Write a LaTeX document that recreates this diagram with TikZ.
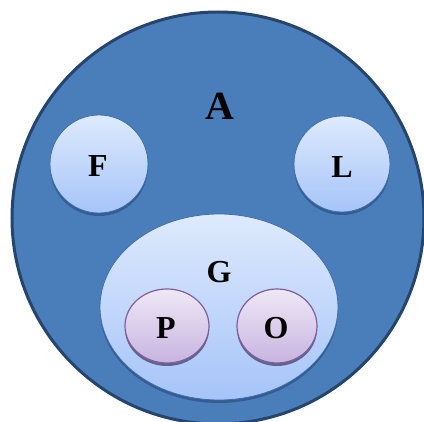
\documentclass[tikz,border=0pt]{standalone}
\usepackage{fontspec}
\setmainfont{Liberation Serif}
\definecolor{outerfill}{RGB}{74,126,187}
\definecolor{outerdraw}{RGB}{38,69,108}
\definecolor{bluetop}{RGB}{222,234,253}
\definecolor{bluebot}{RGB}{166,196,249}
\definecolor{bluedraw}{RGB}{64,110,170}
\definecolor{purtop}{RGB}{239,232,246}
\definecolor{purbot}{RGB}{200,180,224}
\definecolor{purdraw}{RGB}{128,94,156}
\definecolor{shb}{RGB}{52,92,145}
\definecolor{shp}{RGB}{95,100,140}
\begin{document}
\begin{tikzpicture}[x=1pt,y=-1pt,
  lbl/.style={font=\bfseries\fontsize{32}{36}\selectfont, text=black},
  bluein/.style={top color=bluetop, bottom color=bluebot, draw=bluedraw, line width=0.8pt},
  purplein/.style={top color=purtop, bottom color=purbot, draw=purdraw, line width=1.2pt},
  shadowb/.style={fill=shb},
  shadowp/.style={fill=shp}]
\useasboundingbox (0,0) rectangle (424,422);
\begin{scope}
\clip (0,0) rectangle (424,422);
\filldraw[fill=outerfill, draw=outerdraw, line width=3pt] (218,218) circle [radius=206];
\end{scope}
\node[lbl, font=\bfseries\fontsize{40}{44}\selectfont] (A) at (220,106) {A};
% F
\fill[shadowb] (99,167) circle [radius=49];
\draw[bluein] (99,164) circle [radius=49];
\node[lbl] (F) at (98,166) {F};
% L
\fill[shadowb] (342,167) circle [radius=48];
\draw[bluein] (342,164) circle [radius=48];
\node[lbl] (L) at (342,167) {L};
% G
\fill[shadowb] (219,310) ellipse [x radius=119, y radius=93];
\draw[bluein] (219,307) ellipse [x radius=119, y radius=93];
\node[lbl] (G) at (219,272) {G};
% P
\fill[shadowp] (167,329) ellipse [x radius=42, y radius=37];
\draw[purplein] (167,326) ellipse [x radius=42, y radius=37];
\node[lbl] (P) at (166,328) {P};
% O
\fill[shadowp] (277,329) ellipse [x radius=40, y radius=37];
\draw[purplein] (277,326) ellipse [x radius=40, y radius=37];
\node[lbl] (O) at (276,328) {O};
\end{tikzpicture}
\end{document}
